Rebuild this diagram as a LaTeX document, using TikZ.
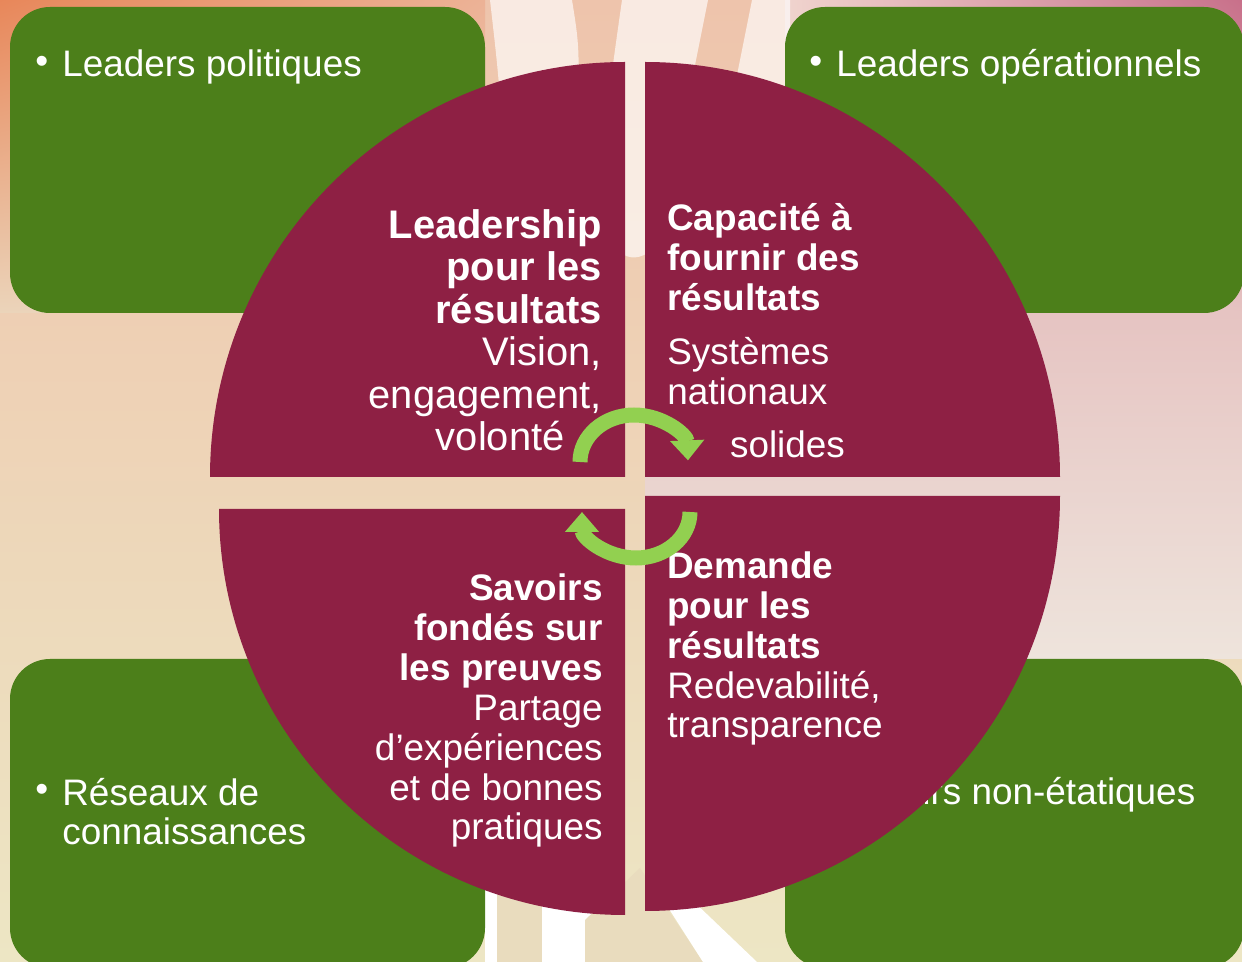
\documentclass[tikz,border=0pt]{standalone}
\usepackage{graphicx}
\usepackage{fontspec}
\setmainfont{Liberation Sans}
\usetikzlibrary{arrows.meta,shadings}

\definecolor{quadred}{RGB}{142,32,68}
\definecolor{boxgreen}{RGB}{76,127,26}
\definecolor{cyclegreen}{RGB}{146,208,80}
\definecolor{bgtop}{RGB}{238,196,172}
\definecolor{bgmid}{RGB}{237,224,208}
\definecolor{bgbot}{RGB}{237,230,196}
\definecolor{bgorange}{RGB}{232,135,90}
\definecolor{bgpeach}{RGB}{236,178,150}
\definecolor{bgsand}{RGB}{235,212,186}
\definecolor{bgsandpink}{RGB}{237,214,196}
\definecolor{bgblush}{RGB}{240,212,206}
\definecolor{bgmauve}{RGB}{200,112,138}
\definecolor{bgrose}{RGB}{236,212,200}
\definecolor{bgdustyrose}{RGB}{230,196,194}
\definecolor{bgpalerose}{RGB}{238,228,220}
\definecolor{bgbeige}{RGB}{233,220,190}

\tikzset{
  quadrant/.style={fill=quadred},
  greenbox/.style={fill=boxgreen, rounded corners=0.8cm},
  boxtext/.style={text=white, align=left, inner sep=0pt,
    font=\fontsize{21}{22.7}\selectfont},
  quadtext/.style={text=white, inner sep=0pt,
    font=\fontsize{21}{22.7}\selectfont},
  cyclearrow/.style={draw=cyclegreen, line width=0.3cm,
    -{Triangle[width=0.66cm,length=0.4cm]}},
  streak/.style={fill=white, opacity=0.65}
}
\newcommand{\bulletmark}{\llap{\raisebox{0.1em}{\textbullet}\hspace{0.38em}}}

\begin{document}
\begin{tikzpicture}[x=0.02cm, y=-0.02cm]
\useasboundingbox (0,0) rectangle (1242,962);
\clip (0,0) rectangle (1242,962);

\shade[top color=bgtop, middle color=bgmid, bottom color=bgbot] (0,0) rectangle (1242,962);
\shade[upper left=bgorange, upper right=bgpeach, lower left=bgsand, lower right=bgsandpink]
  (0,0) rectangle (485,313);
\shade[upper left=bgblush, upper right=bgmauve, lower left=bgrose, lower right=bgdustyrose]
  (785,0) rectangle (1242,313);
\shade[top color=bgdustyrose, bottom color=bgpalerose] (645,313) rectangle (1242,659);

\fill[streak] (490,0) -- (572,0) .. controls (580,50) .. (576,160) -- (505,160) .. controls (498,70) .. (490,0) -- cycle;
\fill[streak] (622,0) -- (708,0) .. controls (690,90) .. (660,240) .. controls (640,270) and (610,260) .. (605,220) .. controls (605,120) .. (622,0) -- cycle;
\fill[streak] (752,0) -- (790,0) -- (790,130) -- (722,150) -- cycle;
\fill[white] (485,880) rectangle (600,962);
\fill[bgbeige] (497,880) rectangle (542,962);
\fill[bgbeige] (585,962) -- (585,920) -- (640,868) -- (703,962) -- cycle;
\fill[white] (662,898) -- (690,898) -- (757,962) -- (703,962) -- cycle;

\fill[greenbox] (10,7) rectangle (485,313);
\fill[greenbox] (785,7) rectangle (1244,313);
\fill[greenbox] (10,659) rectangle (485,968);
\fill[greenbox] (785,659) rectangle (1244,968);

\node[boxtext, anchor=base west] (politiques) at (62,77) {\bulletmark Leaders politiques};
\node[boxtext, anchor=base west] (operationnels) at (836,77) {\bulletmark Leaders opérationnels};
\node[boxtext, anchor=base west] (reseaux) at (62,845) {\bulletmark Réseaux de\\connaissances};
\node[boxtext, anchor=base west] (acteurs) at (836,805) {\bulletmark Acteurs non-étatiques};

\fill[quadrant] (625,477) -- (210,477) arc[start angle=180, end angle=270, radius=415] -- cycle;
\fill[quadrant] (645,477) -- (645,62) arc[start angle=270, end angle=360, radius=415] -- cycle;
\fill[quadrant] (645,496) -- (1060,496) arc[start angle=0, end angle=90, radius=415] -- cycle;
\fill[quadrant] (625,509) -- (625,915) arc[start angle=90, end angle=180, radius=406] -- cycle;

\node[quadtext, align=right, anchor=base east, font=\fontsize{22.7}{24.2}\selectfont] (leadership) at (602,451)
  {\textbf{Leadership}\\\textbf{pour les}\\\textbf{résultats}\\Vision,\\engagement,\\volonté\hspace*{0.93em}};
\node[quadtext, align=left, anchor=base west] (capacite) at (667,458)
  {\textbf{Capacité à}\\\textbf{fournir des}\\\textbf{résultats}\\[8pt]Systèmes\\nationaux\\[8pt]\hspace*{1.7em}solides};
\node[quadtext, align=right, anchor=base east] (savoirs) at (603,840)
  {\textbf{Savoirs}\\\textbf{fondés sur}\\\textbf{les preuves}\\Partage\\d’expériences\\et de bonnes\\pratiques};
\node[quadtext, align=left, anchor=base west] (demande) at (667,738)
  {\textbf{Demande}\\\textbf{pour les}\\\textbf{résultats}\\Redevabilité,\\transparence};

\coordinate (upperstart) at (580,462);
\coordinate (lowerstart) at (690,512);
\draw[cyclearrow] (upperstart) arc[start angle=180, end angle=358, x radius=54, y radius=47];
\draw[cyclearrow] (lowerstart) arc[start angle=0, end angle=180, x radius=54, y radius=46];
\end{tikzpicture}
\end{document}
